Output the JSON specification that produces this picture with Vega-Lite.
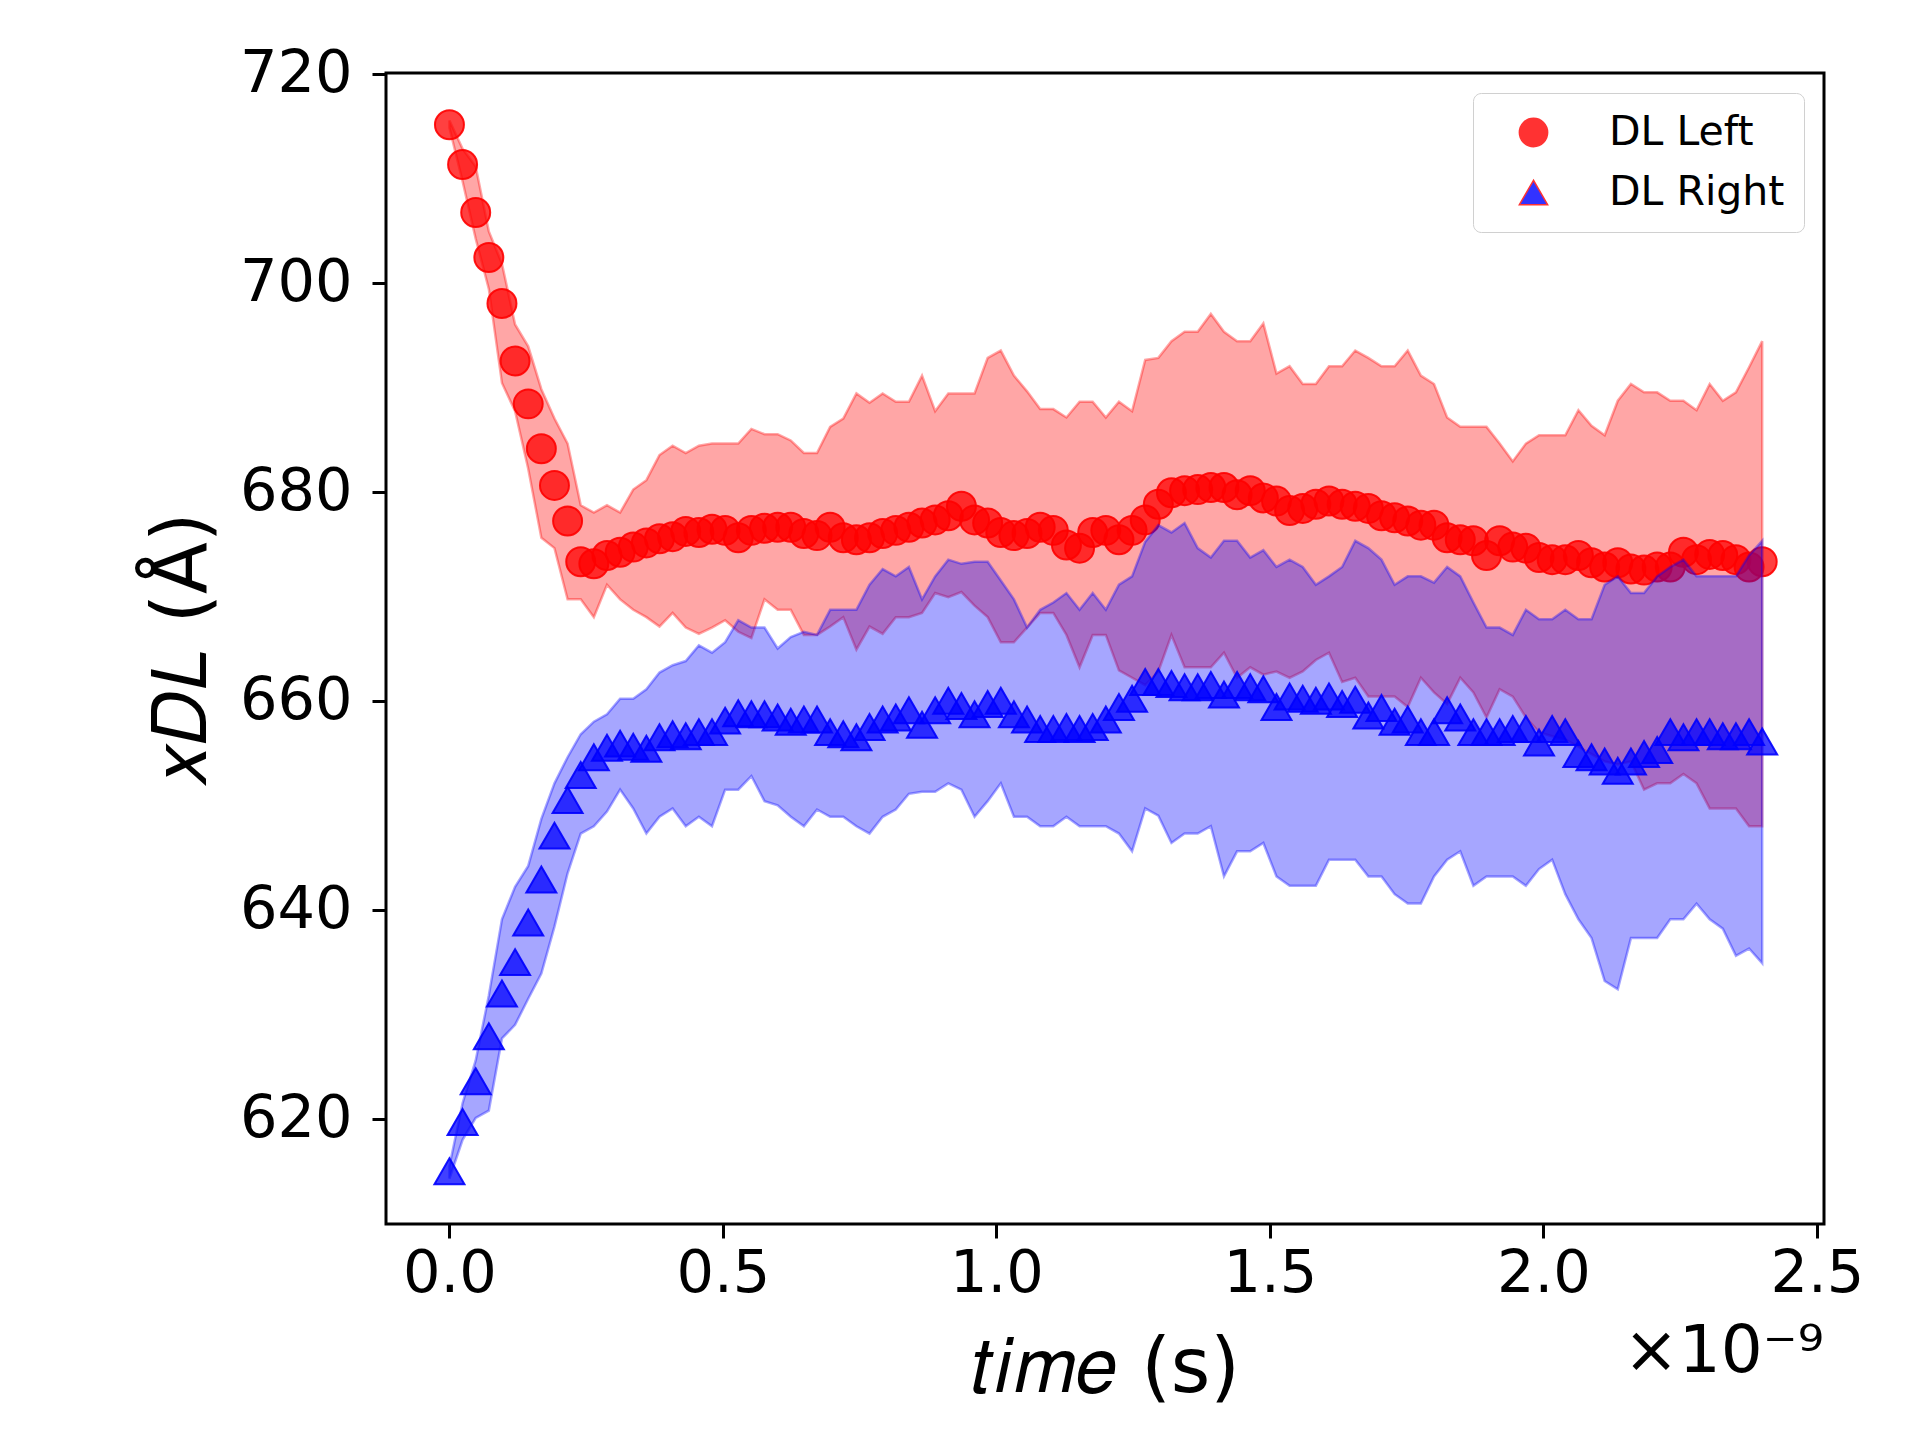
{
  "$schema": "https://vega.github.io/schema/vega-lite/v6.json",
  "width": 1438,
  "height": 1151,
  "autosize": {"type": "none"},
  "padding": {"left": 386, "top": 73, "right": 96, "bottom": 216},
  "background": "white",
  "config": {
    "view": {"stroke": "black", "strokeWidth": 3},
    "axis": {"grid": false, "domain": false, "tickColor": "black", "tickWidth": 3, "tickSize": 14, "labelFont": "DejaVu Sans", "labelFontSize": 59, "labelColor": "black", "titleFont": "DejaVu Sans", "titleFontSize": 76, "titleFontWeight": "normal", "titleColor": "black"}
  },
  "title": {"text": "×10⁻⁹", "orient": "bottom", "anchor": "end", "frame": "group", "font": "DejaVu Sans", "fontSize": 66, "fontWeight": "normal", "color": "black", "offset": -86},
  "data": {"values": [
    {"t": 0.000e-9, "L": 715.1, "Llo": 714.8, "Lhi": 715.5, "R": 615.0, "Rlo": 614.3, "Rhi": 615.5},
    {"t": 0.024e-9, "L": 711.3, "Llo": 709.7, "Lhi": 712.8, "R": 619.7, "Rlo": 618.0, "Rhi": 621.5},
    {"t": 0.048e-9, "L": 706.7, "Llo": 704.2, "Lhi": 711.1, "R": 623.6, "Rlo": 620.1, "Rhi": 625.6},
    {"t": 0.072e-9, "L": 702.4, "Llo": 699.4, "Lhi": 704.9, "R": 627.9, "Rlo": 620.8, "Rhi": 631.8},
    {"t": 0.096e-9, "L": 698.0, "Llo": 690.4, "Lhi": 701.8, "R": 632.0, "Rlo": 627.7, "Rhi": 639.1},
    {"t": 0.120e-9, "L": 692.5, "Llo": 687.7, "Lhi": 696.0, "R": 635.0, "Rlo": 629.0, "Rhi": 642.2},
    {"t": 0.144e-9, "L": 688.4, "Llo": 682.2, "Lhi": 693.9, "R": 638.8, "Rlo": 631.5, "Rhi": 644.2},
    {"t": 0.168e-9, "L": 684.1, "Llo": 675.6, "Lhi": 689.8, "R": 642.9, "Rlo": 633.9, "Rhi": 648.7},
    {"t": 0.192e-9, "L": 680.6, "Llo": 674.6, "Lhi": 687.0, "R": 647.1, "Rlo": 638.4, "Rhi": 652.1},
    {"t": 0.216e-9, "L": 677.2, "Llo": 669.7, "Lhi": 684.6, "R": 650.5, "Rlo": 643.5, "Rhi": 654.6},
    {"t": 0.240e-9, "L": 673.3, "Llo": 669.7, "Lhi": 678.7, "R": 652.9, "Rlo": 647.3, "Rhi": 656.8},
    {"t": 0.264e-9, "L": 673.1, "Llo": 668.0, "Lhi": 678.0, "R": 654.6, "Rlo": 648.0, "Rhi": 658.0},
    {"t": 0.288e-9, "L": 673.9, "Llo": 671.1, "Lhi": 678.7, "R": 655.5, "Rlo": 649.4, "Rhi": 658.7},
    {"t": 0.312e-9, "L": 674.2, "Llo": 669.7, "Lhi": 678.0, "R": 655.9, "Rlo": 651.5, "Rhi": 660.2},
    {"t": 0.336e-9, "L": 674.7, "Llo": 668.7, "Lhi": 680.2, "R": 655.6, "Rlo": 649.7, "Rhi": 660.2},
    {"t": 0.360e-9, "L": 675.1, "Llo": 668.0, "Lhi": 681.1, "R": 655.4, "Rlo": 647.3, "Rhi": 661.1},
    {"t": 0.384e-9, "L": 675.5, "Llo": 667.1, "Lhi": 683.5, "R": 656.5, "Rlo": 648.9, "Rhi": 662.7},
    {"t": 0.408e-9, "L": 675.7, "Llo": 668.4, "Lhi": 684.4, "R": 656.8, "Rlo": 649.7, "Rhi": 663.4},
    {"t": 0.432e-9, "L": 676.2, "Llo": 667.0, "Lhi": 683.7, "R": 656.6, "Rlo": 648.0, "Rhi": 663.8},
    {"t": 0.456e-9, "L": 676.1, "Llo": 666.4, "Lhi": 684.4, "R": 657.0, "Rlo": 648.9, "Rhi": 665.3},
    {"t": 0.480e-9, "L": 676.4, "Llo": 667.0, "Lhi": 684.6, "R": 657.0, "Rlo": 648.0, "Rhi": 664.6},
    {"t": 0.504e-9, "L": 676.3, "Llo": 667.7, "Lhi": 684.6, "R": 658.1, "Rlo": 651.5, "Rhi": 665.6},
    {"t": 0.528e-9, "L": 675.6, "Llo": 666.6, "Lhi": 684.6, "R": 658.8, "Rlo": 651.5, "Rhi": 667.7},
    {"t": 0.552e-9, "L": 676.3, "Llo": 666.0, "Lhi": 686.0, "R": 658.7, "Rlo": 652.8, "Rhi": 667.0},
    {"t": 0.576e-9, "L": 676.5, "Llo": 669.7, "Lhi": 685.5, "R": 658.7, "Rlo": 650.4, "Rhi": 667.0},
    {"t": 0.600e-9, "L": 676.6, "Llo": 668.7, "Lhi": 685.5, "R": 658.4, "Rlo": 650.0, "Rhi": 665.0},
    {"t": 0.624e-9, "L": 676.6, "Llo": 668.7, "Lhi": 684.9, "R": 658.0, "Rlo": 648.9, "Rhi": 666.1},
    {"t": 0.648e-9, "L": 676.0, "Llo": 666.3, "Lhi": 683.7, "R": 658.2, "Rlo": 648.0, "Rhi": 666.6},
    {"t": 0.672e-9, "L": 675.8, "Llo": 666.3, "Lhi": 683.7, "R": 658.2, "Rlo": 649.6, "Rhi": 666.3},
    {"t": 0.696e-9, "L": 676.6, "Llo": 667.1, "Lhi": 686.2, "R": 657.0, "Rlo": 648.9, "Rhi": 668.7},
    {"t": 0.720e-9, "L": 675.6, "Llo": 668.0, "Lhi": 687.0, "R": 656.8, "Rlo": 648.9, "Rhi": 668.7},
    {"t": 0.744e-9, "L": 675.4, "Llo": 664.9, "Lhi": 689.4, "R": 656.5, "Rlo": 648.0, "Rhi": 668.7},
    {"t": 0.768e-9, "L": 675.6, "Llo": 667.1, "Lhi": 688.5, "R": 657.5, "Rlo": 647.3, "Rhi": 671.1},
    {"t": 0.792e-9, "L": 676.0, "Llo": 666.4, "Lhi": 689.4, "R": 658.2, "Rlo": 648.9, "Rhi": 672.6},
    {"t": 0.816e-9, "L": 676.3, "Llo": 668.0, "Lhi": 688.6, "R": 658.4, "Rlo": 649.6, "Rhi": 671.9},
    {"t": 0.840e-9, "L": 676.6, "Llo": 668.0, "Lhi": 688.6, "R": 659.1, "Rlo": 651.1, "Rhi": 672.8},
    {"t": 0.864e-9, "L": 677.0, "Llo": 668.4, "Lhi": 691.1, "R": 657.7, "Rlo": 651.3, "Rhi": 669.7},
    {"t": 0.888e-9, "L": 677.3, "Llo": 670.3, "Lhi": 687.7, "R": 659.1, "Rlo": 651.3, "Rhi": 671.9},
    {"t": 0.912e-9, "L": 677.7, "Llo": 669.9, "Lhi": 689.4, "R": 660.0, "Rlo": 652.1, "Rhi": 673.5},
    {"t": 0.936e-9, "L": 678.6, "Llo": 670.4, "Lhi": 689.4, "R": 659.5, "Rlo": 651.5, "Rhi": 673.1},
    {"t": 0.960e-9, "L": 677.3, "Llo": 669.1, "Lhi": 689.4, "R": 658.7, "Rlo": 648.9, "Rhi": 673.3},
    {"t": 0.984e-9, "L": 677.0, "Llo": 668.0, "Lhi": 692.8, "R": 659.7, "Rlo": 650.4, "Rhi": 673.3},
    {"t": 1.008e-9, "L": 676.1, "Llo": 665.6, "Lhi": 693.5, "R": 660.0, "Rlo": 652.1, "Rhi": 671.5},
    {"t": 1.032e-9, "L": 675.8, "Llo": 665.6, "Lhi": 691.1, "R": 658.7, "Rlo": 648.9, "Rhi": 669.7},
    {"t": 1.056e-9, "L": 676.0, "Llo": 667.0, "Lhi": 689.6, "R": 658.2, "Rlo": 648.9, "Rhi": 667.0},
    {"t": 1.080e-9, "L": 676.6, "Llo": 668.4, "Lhi": 687.9, "R": 657.3, "Rlo": 648.0, "Rhi": 668.7},
    {"t": 1.104e-9, "L": 676.3, "Llo": 668.4, "Lhi": 687.9, "R": 657.3, "Rlo": 648.0, "Rhi": 669.4},
    {"t": 1.128e-9, "L": 674.9, "Llo": 666.3, "Lhi": 687.1, "R": 657.5, "Rlo": 648.9, "Rhi": 670.3},
    {"t": 1.152e-9, "L": 674.6, "Llo": 663.2, "Lhi": 688.6, "R": 657.3, "Rlo": 648.0, "Rhi": 668.7},
    {"t": 1.176e-9, "L": 676.1, "Llo": 666.3, "Lhi": 688.6, "R": 657.5, "Rlo": 648.0, "Rhi": 670.3},
    {"t": 1.200e-9, "L": 676.3, "Llo": 666.3, "Lhi": 687.1, "R": 658.2, "Rlo": 648.0, "Rhi": 668.7},
    {"t": 1.224e-9, "L": 675.4, "Llo": 662.9, "Lhi": 688.6, "R": 659.4, "Rlo": 647.3, "Rhi": 671.1},
    {"t": 1.248e-9, "L": 676.3, "Llo": 662.2, "Lhi": 687.7, "R": 660.2, "Rlo": 645.6, "Rhi": 671.9},
    {"t": 1.272e-9, "L": 677.3, "Llo": 661.5, "Lhi": 692.6, "R": 661.8, "Rlo": 649.7, "Rhi": 675.2},
    {"t": 1.296e-9, "L": 678.8, "Llo": 662.8, "Lhi": 692.8, "R": 661.8, "Rlo": 649.0, "Rhi": 676.8},
    {"t": 1.320e-9, "L": 679.9, "Llo": 666.3, "Lhi": 694.4, "R": 661.6, "Rlo": 646.4, "Rhi": 676.1},
    {"t": 1.344e-9, "L": 680.1, "Llo": 663.2, "Lhi": 695.3, "R": 661.3, "Rlo": 647.3, "Rhi": 677.0},
    {"t": 1.368e-9, "L": 680.2, "Llo": 663.2, "Lhi": 695.3, "R": 661.3, "Rlo": 647.3, "Rhi": 674.6},
    {"t": 1.392e-9, "L": 680.4, "Llo": 663.2, "Lhi": 697.0, "R": 661.5, "Rlo": 648.0, "Rhi": 673.7},
    {"t": 1.416e-9, "L": 680.4, "Llo": 664.6, "Lhi": 695.3, "R": 660.6, "Rlo": 643.2, "Rhi": 675.3},
    {"t": 1.440e-9, "L": 679.7, "Llo": 662.2, "Lhi": 694.4, "R": 661.5, "Rlo": 645.6, "Rhi": 675.3},
    {"t": 1.464e-9, "L": 680.1, "Llo": 663.2, "Lhi": 694.4, "R": 661.3, "Rlo": 645.6, "Rhi": 673.7},
    {"t": 1.488e-9, "L": 679.4, "Llo": 662.5, "Lhi": 696.1, "R": 661.1, "Rlo": 646.4, "Rhi": 674.4},
    {"t": 1.512e-9, "L": 679.1, "Llo": 662.8, "Lhi": 691.3, "R": 659.4, "Rlo": 643.2, "Rhi": 672.8},
    {"t": 1.536e-9, "L": 678.2, "Llo": 662.2, "Lhi": 692.0, "R": 660.4, "Rlo": 642.3, "Rhi": 673.5},
    {"t": 1.560e-9, "L": 678.4, "Llo": 662.8, "Lhi": 690.3, "R": 660.2, "Rlo": 642.3, "Rhi": 672.8},
    {"t": 1.584e-9, "L": 678.8, "Llo": 663.9, "Lhi": 690.3, "R": 660.0, "Rlo": 642.3, "Rhi": 671.1},
    {"t": 1.608e-9, "L": 679.1, "Llo": 664.6, "Lhi": 692.0, "R": 660.4, "Rlo": 644.8, "Rhi": 671.9},
    {"t": 1.632e-9, "L": 678.8, "Llo": 661.8, "Lhi": 692.0, "R": 659.7, "Rlo": 644.8, "Rhi": 672.8},
    {"t": 1.656e-9, "L": 678.6, "Llo": 662.2, "Lhi": 693.5, "R": 660.1, "Rlo": 644.8, "Rhi": 675.3},
    {"t": 1.680e-9, "L": 678.4, "Llo": 660.4, "Lhi": 692.8, "R": 658.6, "Rlo": 643.2, "Rhi": 674.6},
    {"t": 1.704e-9, "L": 677.7, "Llo": 660.4, "Lhi": 692.0, "R": 659.3, "Rlo": 643.2, "Rhi": 673.5},
    {"t": 1.728e-9, "L": 677.5, "Llo": 660.4, "Lhi": 692.0, "R": 658.0, "Rlo": 641.5, "Rhi": 671.1},
    {"t": 1.752e-9, "L": 677.2, "Llo": 659.4, "Lhi": 693.5, "R": 658.2, "Rlo": 640.6, "Rhi": 671.9},
    {"t": 1.776e-9, "L": 676.8, "Llo": 662.2, "Lhi": 691.1, "R": 657.0, "Rlo": 640.6, "Rhi": 671.9},
    {"t": 1.800e-9, "L": 676.8, "Llo": 660.8, "Lhi": 690.3, "R": 657.0, "Rlo": 643.2, "Rhi": 671.3},
    {"t": 1.824e-9, "L": 675.6, "Llo": 659.7, "Lhi": 687.1, "R": 659.1, "Rlo": 644.8, "Rhi": 672.8},
    {"t": 1.848e-9, "L": 675.4, "Llo": 662.2, "Lhi": 686.2, "R": 658.4, "Rlo": 645.6, "Rhi": 671.9},
    {"t": 1.872e-9, "L": 675.3, "Llo": 660.8, "Lhi": 686.2, "R": 657.0, "Rlo": 642.3, "Rhi": 669.4},
    {"t": 1.896e-9, "L": 673.9, "Llo": 658.4, "Lhi": 686.2, "R": 657.0, "Rlo": 643.2, "Rhi": 667.0},
    {"t": 1.920e-9, "L": 675.3, "Llo": 661.1, "Lhi": 684.6, "R": 657.0, "Rlo": 643.2, "Rhi": 667.0},
    {"t": 1.944e-9, "L": 674.7, "Llo": 660.4, "Lhi": 682.9, "R": 657.3, "Rlo": 643.2, "Rhi": 666.3},
    {"t": 1.968e-9, "L": 674.6, "Llo": 658.4, "Lhi": 684.6, "R": 657.3, "Rlo": 642.3, "Rhi": 668.7},
    {"t": 1.992e-9, "L": 673.7, "Llo": 657.0, "Lhi": 685.4, "R": 656.0, "Rlo": 643.9, "Rhi": 667.8},
    {"t": 2.016e-9, "L": 673.5, "Llo": 656.6, "Lhi": 685.4, "R": 657.3, "Rlo": 644.8, "Rhi": 667.8},
    {"t": 2.040e-9, "L": 673.5, "Llo": 656.3, "Lhi": 685.4, "R": 657.0, "Rlo": 641.5, "Rhi": 668.7},
    {"t": 2.064e-9, "L": 673.9, "Llo": 655.6, "Lhi": 687.8, "R": 654.9, "Rlo": 639.1, "Rhi": 667.8},
    {"t": 2.088e-9, "L": 673.2, "Llo": 654.9, "Lhi": 686.3, "R": 654.6, "Rlo": 637.3, "Rhi": 667.8},
    {"t": 2.112e-9, "L": 672.8, "Llo": 654.2, "Lhi": 685.4, "R": 654.2, "Rlo": 633.2, "Rhi": 671.1},
    {"t": 2.136e-9, "L": 673.2, "Llo": 653.9, "Lhi": 688.7, "R": 653.3, "Rlo": 632.4, "Rhi": 671.9},
    {"t": 2.160e-9, "L": 672.6, "Llo": 654.2, "Lhi": 690.3, "R": 654.2, "Rlo": 637.3, "Rhi": 670.3},
    {"t": 2.184e-9, "L": 672.5, "Llo": 651.5, "Lhi": 689.5, "R": 654.9, "Rlo": 637.3, "Rhi": 670.3},
    {"t": 2.208e-9, "L": 672.8, "Llo": 652.1, "Lhi": 689.5, "R": 655.3, "Rlo": 637.3, "Rhi": 671.9},
    {"t": 2.232e-9, "L": 672.8, "Llo": 652.1, "Lhi": 688.7, "R": 657.0, "Rlo": 639.1, "Rhi": 672.8},
    {"t": 2.256e-9, "L": 674.2, "Llo": 653.0, "Lhi": 688.7, "R": 656.5, "Rlo": 639.1, "Rhi": 673.5},
    {"t": 2.280e-9, "L": 673.5, "Llo": 652.1, "Lhi": 687.8, "R": 657.0, "Rlo": 640.6, "Rhi": 671.9},
    {"t": 2.304e-9, "L": 674.0, "Llo": 649.7, "Lhi": 690.3, "R": 657.0, "Rlo": 639.1, "Rhi": 671.9},
    {"t": 2.328e-9, "L": 673.9, "Llo": 649.7, "Lhi": 688.7, "R": 656.6, "Rlo": 638.2, "Rhi": 671.9},
    {"t": 2.352e-9, "L": 673.5, "Llo": 649.7, "Lhi": 689.5, "R": 656.6, "Rlo": 635.6, "Rhi": 671.9},
    {"t": 2.376e-9, "L": 672.8, "Llo": 648.0, "Lhi": 691.9, "R": 657.0, "Rlo": 636.3, "Rhi": 673.9},
    {"t": 2.400e-9, "L": 673.3, "Llo": 648.0, "Lhi": 694.4, "R": 656.1, "Rlo": 634.9, "Rhi": 675.3}
  ]},
  "encoding": {
    "x": {"field": "t", "type": "quantitative", "scale": {"domain": [-0.116e-9, 2.513e-9], "nice": false, "zero": false},
      "axis": {"values": [0, 0.5e-9, 1.0e-9, 1.5e-9, 2.0e-9, 2.5e-9], "labelExpr": "format(datum.value*1e9, '.1f')", "labelPadding": 6, "title": "𝑡𝑖𝑚𝑒 (s)", "titlePadding": 28}}
  },
  "layer": [
    {
      "mark": {"type": "area", "fill": "#ff0000", "fillOpacity": 0.35, "stroke": "#ff0000", "strokeOpacity": 0.35, "strokeWidth": 2.5},
      "encoding": {
        "y": {"field": "Lhi", "type": "quantitative", "scale": {"domain": [609.95, 720.05], "nice": false, "zero": false},
          "axis": {"values": [620, 640, 660, 680, 700, 720], "labelPadding": 20, "title": "𝑥𝐷𝐿 (Å)", "titlePadding": 18}},
        "y2": {"field": "Llo"}
      }
    },
    {
      "mark": {"type": "point", "filled": true, "shape": "circle", "size": 840, "fillOpacity": 0.75, "stroke": "#ff0000", "strokeWidth": 2, "strokeOpacity": 0.9},
      "encoding": {
        "y": {"field": "L", "type": "quantitative"},
        "color": {"datum": "DL Left", "type": "nominal", "scale": {"domain": ["DL Left", "DL Right"], "range": ["#ff0000", "#0000ff"]},
          "legend": {"title": null, "orient": "top-right", "offset": 20, "padding": 19, "labelFont": "DejaVu Sans", "labelFontSize": 41, "labelColor": "black", "labelLimit": 500, "labelOffset": 55, "symbolOffset": 21, "rowPadding": 18, "symbolSize": 800, "symbolOpacity": 0.8, "strokeColor": "#d0d0d0", "cornerRadius": 8, "fillColor": "white",
            "encode": {"symbols": {"enter": {"stroke": {"signal": "scale('color', datum.value)"}}, "update": {"stroke": {"signal": "scale('color', datum.value)"}, "strokeWidth": {"value": 2}}}, "legend": {"update": {"strokeWidth": {"value": 3}}}}}},
        "shape": {"datum": "DL Left", "type": "nominal", "scale": {"domain": ["DL Left", "DL Right"], "range": ["circle", "triangle-up"]}}
      }
    },
    {
      "mark": {"type": "area", "fill": "#0000ff", "fillOpacity": 0.35, "stroke": "#0000ff", "strokeOpacity": 0.35, "strokeWidth": 2.5},
      "encoding": {
        "y": {"field": "Rhi", "type": "quantitative"},
        "y2": {"field": "Rlo"}
      }
    },
    {
      "mark": {"type": "point", "filled": true, "shape": "triangle-up", "size": 900, "fillOpacity": 0.75, "stroke": "#0000ff", "strokeWidth": 2, "strokeOpacity": 0.9},
      "encoding": {
        "y": {"field": "R", "type": "quantitative"},
        "color": {"datum": "DL Right", "type": "nominal"},
        "shape": {"datum": "DL Right", "type": "nominal"}
      }
    }
  ]
}
